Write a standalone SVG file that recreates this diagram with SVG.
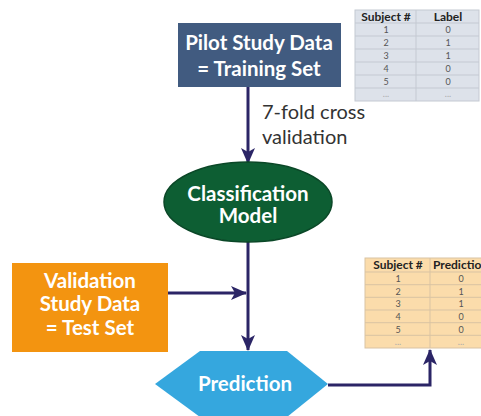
<svg xmlns="http://www.w3.org/2000/svg" width="481" height="416" viewBox="0 0 481 416">
<defs>
<style>
.lbl{font-family:Lato,"Open Sans","Liberation Sans",sans-serif;font-weight:bold;fill:#ffffff;text-anchor:middle;font-size:20.5px}
.note{font-family:Lato,"Open Sans","Liberation Sans",sans-serif;fill:#333333;font-size:20px}
.th{font-family:Lato,"Liberation Sans",sans-serif;font-weight:bold;font-size:12px;fill:#222;text-anchor:middle}
.td{font-family:Lato,"Liberation Sans",sans-serif;font-size:9px;fill:#555;text-anchor:middle}
.dots{fill:#aaa}
.conn{fill:none;stroke:#2b2566;stroke-width:3}
</style>
<marker id="ah" viewBox="0 0 16 16" refX="15" refY="8" markerWidth="16" markerHeight="16" markerUnits="userSpaceOnUse" orient="auto">
<path d="M0,1 L16,8 L0,15 L4,8 z" fill="#2b2566"/>
</marker>
</defs>
<rect width="481" height="416" fill="#ffffff"/>

<g id="connectors">
<line class="conn" x1="248" y1="87" x2="248" y2="163" marker-end="url(#ah)"/>
<line class="conn" x1="248" y1="242" x2="248" y2="350" marker-end="url(#ah)"/>
<line class="conn" x1="168" y1="293" x2="246" y2="293" marker-end="url(#ah)"/>
<polyline class="conn" points="328,385 430,385 430,350" marker-end="url(#ah)"/>
<text class="note" x="262" y="119">7-fold cross</text>
<text class="note" x="262" y="144">validation</text>
</g>

<g id="pilot">
<rect x="178" y="23" width="163" height="64" fill="#415b80"/>
<text class="lbl" x="259" y="50">Pilot Study Data</text>
<text class="lbl" x="259" y="76">= Training Set</text>
</g>

<g id="train-table">
<rect x="355" y="10" width="124" height="91" fill="#dde2ea" stroke="#c4c9d2" stroke-width="1"/>
<line x1="416" y1="10" x2="416" y2="101" stroke="#c4c9d2"/>
<g stroke="#c4c9d2" stroke-width="1">
<line x1="355" y1="23" x2="479" y2="23"/>
<line x1="355" y1="36" x2="479" y2="36"/>
<line x1="355" y1="49" x2="479" y2="49"/>
<line x1="355" y1="62" x2="479" y2="62"/>
<line x1="355" y1="75" x2="479" y2="75"/>
<line x1="355" y1="88" x2="479" y2="88"/>
</g>
<text class="th" x="386" y="21">Subject #</text>
<text class="th" x="448" y="21">Label</text>
<text class="td" x="386" y="33">1</text><text class="td" x="448" y="33">0</text>
<text class="td" x="386" y="46">2</text><text class="td" x="448" y="46">1</text>
<text class="td" x="386" y="59">3</text><text class="td" x="448" y="59">1</text>
<text class="td" x="386" y="72">4</text><text class="td" x="448" y="72">0</text>
<text class="td" x="386" y="85">5</text><text class="td" x="448" y="85">0</text>
<text class="td dots" x="386" y="97">...</text><text class="td dots" x="448" y="97">...</text>
</g>

<g id="model">
<ellipse cx="248" cy="202" rx="84" ry="40" fill="#0d5e33" stroke="#0a4727" stroke-width="1.5"/>
<text class="lbl" x="248" y="201">Classification</text>
<text class="lbl" x="248" y="223">Model</text>
</g>

<g id="validation">
<rect x="12" y="263" width="156" height="89" fill="#f39410"/>
<text class="lbl" x="90" y="288">Validation</text>
<text class="lbl" x="90" y="311">Study Data</text>
<text class="lbl" x="90" y="335">= Test Set</text>
</g>

<g id="prediction">
<polygon points="155,384 200,351 287,351 328,384 287,417 200,417" fill="#35a7de"/>
<text class="lbl" x="245" y="391">Prediction</text>
</g>

<g id="pred-table">
<rect x="365" y="258" width="120" height="90" fill="#fbdcab" stroke="#d9c3a3" stroke-width="1"/>
<line x1="430" y1="258" x2="430" y2="348" stroke="#d9c3a3"/>
<g stroke="#d9c3a3" stroke-width="1">
<line x1="365" y1="272" x2="481" y2="272"/>
<line x1="365" y1="284.7" x2="481" y2="284.7"/>
<line x1="365" y1="297.3" x2="481" y2="297.3"/>
<line x1="365" y1="310" x2="481" y2="310"/>
<line x1="365" y1="322.7" x2="481" y2="322.7"/>
<line x1="365" y1="335.3" x2="481" y2="335.3"/>
</g>
<text class="th" x="398" y="269">Subject #</text>
<text class="th" x="433" y="269" style="text-anchor:start">Prediction</text>
<text class="td" x="398" y="282">1</text><text class="td" x="461" y="282">0</text>
<text class="td" x="398" y="295">2</text><text class="td" x="461" y="295">1</text>
<text class="td" x="398" y="307">3</text><text class="td" x="461" y="307">1</text>
<text class="td" x="398" y="320">4</text><text class="td" x="461" y="320">0</text>
<text class="td" x="398" y="333">5</text><text class="td" x="461" y="333">0</text>
<text class="td dots" x="398" y="345">...</text><text class="td dots" x="461" y="345">...</text>
</g>
</svg>
